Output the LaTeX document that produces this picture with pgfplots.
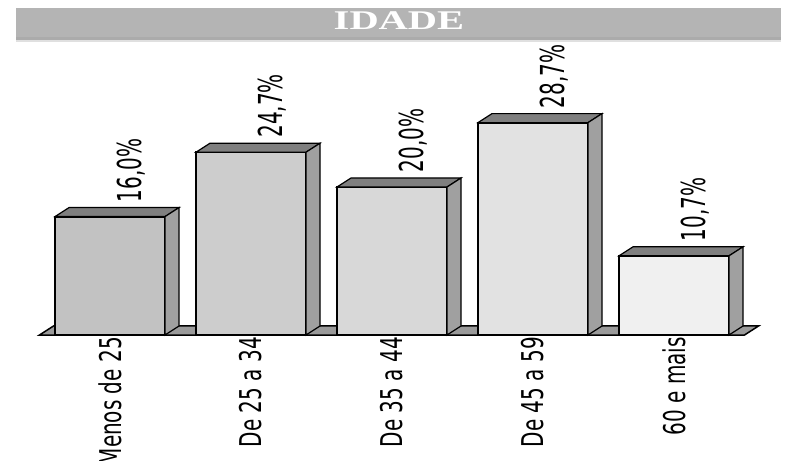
\documentclass[border=0pt]{standalone}
\usepackage{fontspec}
\usepackage{graphicx}
\usepackage{pgfplots}
\pgfplotsset{compat=1.18}
\newfontfamily\dejavu{DejaVu Sans}
\newfontfamily\tserif{Liberation Serif}

\definecolor{barA}{HTML}{C2C2C2}
\definecolor{barB}{HTML}{CDCDCD}
\definecolor{barC}{HTML}{D8D8D8}
\definecolor{barD}{HTML}{E2E2E2}
\definecolor{barE}{HTML}{F0F0F0}
\definecolor{topgray}{HTML}{7F7F7F}
\definecolor{sidegray}{HTML}{A0A0A0}
\definecolor{floorgray}{HTML}{9A9A9A}
\definecolor{titlegray}{HTML}{B4B4B4}

% the picture is stretched sideways, so the upright glyphs get taller before turning
\newcommand\st[1]{\rotatebox{90}{\scalebox{1}[1.5]{#1}}}
\newcommand\sv[1]{\rotatebox{90}{\scalebox{1}[1.65]{#1}}}

% top and side faces of a bar, drawn from its top centre
\pgfdeclareplotmark{cube3d}{%
  \pgfmathsetmacro\hh{\rawy*7.4}%
  \pgfsetlinewidth{1.2bp}%
  \pgfsetstrokecolor{black}%
  \pgfsetfillcolor{topgray}%
  \pgfpathmoveto{\pgfpoint{-55bp}{0bp}}%
  \pgfpathlineto{\pgfpoint{-41bp}{9bp}}%
  \pgfpathlineto{\pgfpoint{69bp}{9bp}}%
  \pgfpathlineto{\pgfpoint{55bp}{0bp}}%
  \pgfpathclose
  \pgfusepath{fill,stroke}%
  \pgfsetfillcolor{sidegray}%
  \pgfpathmoveto{\pgfpoint{55bp}{0bp}}%
  \pgfpathlineto{\pgfpoint{69bp}{9bp}}%
  \pgfpathlineto{\pgfpoint{69bp}{9bp-\hh bp}}%
  \pgfpathlineto{\pgfpoint{55bp}{-\hh bp}}%
  \pgfpathclose
  \pgfusepath{fill,stroke}%
}

\begin{document}
\begin{tikzpicture}
\path[use as bounding box] (0,0) rectangle (790bp,461bp);

% title band
\fill[titlegray] (16bp,420bp) rectangle (781bp,453bp);
\fill[black!33] (16bp,421bp) rectangle (781bp,424bp);
\fill[black!12] (16bp,419bp) rectangle (781bp,420.5bp);
\node[text=white, font=\tserif\bfseries\fontsize{27bp}{30bp}\selectfont, inner sep=0pt]
  at (399bp,440bp) {\scalebox{1.5}[1]{IDADE}};

\begin{axis}[
  at={(39.5bp,126bp)}, anchor=south west,
  x=141bp, y=7.4bp,
  xmin=-0.5, xmax=4.5, ymin=0, ymax=40,
  axis line style={draw=none},
  tick style={draw=none}, major tick length=0pt,
  ytick=\empty,
  xtick={0,1,2,3,4},
  xticklabels={{\st{Menos de 25}},{\st{De 25 a 34}},{\st{De 35 a 44}},{\st{De 45 a 59}},{\st{60 e mais}}},
  xticklabel style={font=\dejavu\fontsize{20bp}{24bp}\selectfont, inner sep=0pt, yshift=-2bp},
  clip=false,
  every axis plot/.append style={
    ybar, bar width=110bp, bar shift=0pt,
    draw=black, line width=2bp,
    mark=cube3d,
    visualization depends on={rawy \as \rawy},
    nodes near coords={\sv{\pgfmathprintnumber[fixed,fixed zerofill,precision=1,use comma,assume math mode=true]{\pgfplotspointmeta}\%}},
    nodes near coords style={font=\dejavu\fontsize{20bp}{24bp}\selectfont, text=black, inner sep=0pt, xshift=21bp, yshift=14bp},
  },
]
% floor
\draw[line width=1.5bp, fill=floorgray]
  (axis cs:-0.5,0) -- (axis cs:4.5,0)
  -- ([shift={(14bp,9bp)}]axis cs:4.5,0)
  -- ([shift={(14bp,9bp)}]axis cs:-0.5,0) -- cycle;

\addplot[fill=barA] coordinates {(0,16.0)};
\addplot[fill=barB] coordinates {(1,24.7)};
\addplot[fill=barC] coordinates {(2,20.0)};
\addplot[fill=barD] coordinates {(3,28.7)};
\addplot[fill=barE] coordinates {(4,10.7)};
\end{axis}
\end{tikzpicture}
\end{document}
